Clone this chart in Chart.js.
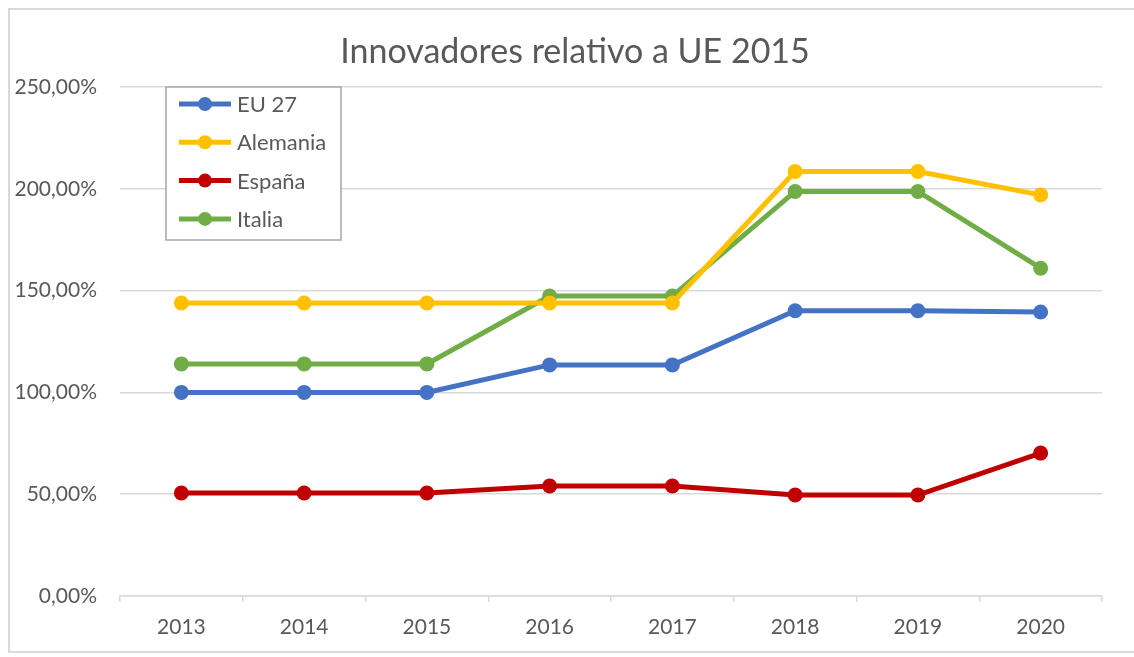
<!DOCTYPE html>
<html lang="es">
<head>
    <meta charset="UTF-8">
    <title>Innovadores relativo a UE 2015</title>
    <script src="https://cdn.jsdelivr.net/npm/chart.js"></script>
    <style>
        html, body {
            margin: 0;
            padding: 0;
            background: #ffffff;
        }
        #wrap {
            position: relative;
            width: 1134px;
            height: 657px;
            overflow: hidden;
        }
        #frame {
            position: absolute;
            left: 8px;
            top: 8px;
            width: 1140px;
            height: 645px;
            border: 2px solid #d9d9d9;
            box-sizing: border-box;
        }
        #chart {
            position: absolute;
            left: 0;
            top: 0;
        }
    </style>
</head>
<body>
    <div id="wrap">
        <div id="frame"></div>
        <canvas id="chart" width="1134" height="657"></canvas>
    </div>

    <script>
        const chartTitle = 'Innovadores relativo a UE 2015';
        const years = ['2013', '2014', '2015', '2016', '2017', '2018', '2019', '2020'];
        const eu27 = [100, 100, 100, 113.5, 113.5, 140.1, 140.1, 139.5];
        const alemania = [143.9, 143.9, 143.9, 143.9, 143.9, 208.5, 208.5, 197];
        const espana = [50.6, 50.6, 50.6, 54, 54, 49.6, 49.6, 70.2];
        const italia = [114, 114, 114, 147.3, 147.3, 198.7, 198.7, 161];

        const fontFamily = 'Lato, "Open Sans", sans-serif';
        const textColor = '#595959';

        function series(label, data, color) {
            return {
                label,
                data,
                borderColor: color,
                backgroundColor: color,
                borderWidth: 5,
                pointRadius: 7.5,
                pointHoverRadius: 7.5,
                pointBorderWidth: 0,
                tension: 0
            };
        }

        // title sits a bit right of the canvas centre, so draw it by hand
        const offsetTitle = {
            id: 'offsetTitle',
            afterDraw(chart) {
                const ctx = chart.ctx;
                ctx.save();
                ctx.font = '34px ' + fontFamily;
                ctx.fillStyle = textColor;
                ctx.textAlign = 'center';
                ctx.textBaseline = 'middle';
                ctx.fillText(chartTitle, 575, 52);
                ctx.restore();
            }
        };

        // legend box drawn inside the plot, like the spreadsheet one
        const boxLegend = {
            id: 'boxLegend',
            afterDraw(chart) {
                const ctx = chart.ctx;
                const x = 166, y = 87, w = 175, h = 153;
                ctx.save();
                ctx.fillStyle = '#ffffff';
                ctx.fillRect(x, y, w, h);
                ctx.strokeStyle = '#a6a6a6';
                ctx.lineWidth = 1.5;
                ctx.strokeRect(x, y, w, h);
                ctx.font = '22px ' + fontFamily;
                ctx.textBaseline = 'middle';
                chart.data.datasets.forEach((ds, i) => {
                    const cy = 104 + i * 38.3;
                    ctx.strokeStyle = ds.borderColor;
                    ctx.lineWidth = 5;
                    ctx.beginPath();
                    ctx.moveTo(179, cy);
                    ctx.lineTo(231, cy);
                    ctx.stroke();
                    ctx.fillStyle = ds.borderColor;
                    ctx.beginPath();
                    ctx.arc(205, cy, 7, 0, Math.PI * 2);
                    ctx.fill();
                    ctx.fillStyle = textColor;
                    ctx.fillText(ds.label, 237, cy + 1);
                });
                ctx.restore();
            }
        };

        new Chart(document.getElementById('chart'), {
            type: 'line',
            data: {
                labels: years,
                datasets: [
                    series('EU 27', eu27, '#4472C4'),
                    series('Alemania', alemania, '#FFC000'),
                    series('España', espana, '#C00000'),
                    series('Italia', italia, '#70AD47')
                ]
            },
            options: {
                responsive: false,
                animation: false,
                layout: {
                    padding: { left: 0, right: 32, top: 87, bottom: 10 }
                },
                plugins: {
                    legend: { display: false },
                    tooltip: { enabled: false },
                    title: { display: false }
                },
                scales: {
                    x: {
                        offset: true,
                        grid: {
                            offset: true,
                            drawOnChartArea: false,
                            drawTicks: true,
                            tickLength: 6,
                            color: '#d9d9d9',
                            lineWidth: 1.5
                        },
                        border: { color: '#d9d9d9', width: 1.5 },
                        ticks: {
                            color: textColor,
                            font: { family: fontFamily, size: 21 },
                            padding: 13,
                            maxRotation: 0
                        },
                        afterFit(scale) { scale.height = 51; }
                    },
                    y: {
                        min: 0,
                        max: 250,
                        grid: {
                            color: '#d9d9d9',
                            lineWidth: 1.5,
                            drawTicks: false
                        },
                        border: { display: false },
                        ticks: {
                            stepSize: 50,
                            color: textColor,
                            font: { family: fontFamily, size: 21 },
                            padding: 23,
                            callback: v => v.toFixed(2).replace('.', ',') + '%'
                        },
                        afterFit(scale) { scale.width = 120; }
                    }
                }
            },
            plugins: [offsetTitle, boxLegend]
        });
    </script>
</body>
</html>
